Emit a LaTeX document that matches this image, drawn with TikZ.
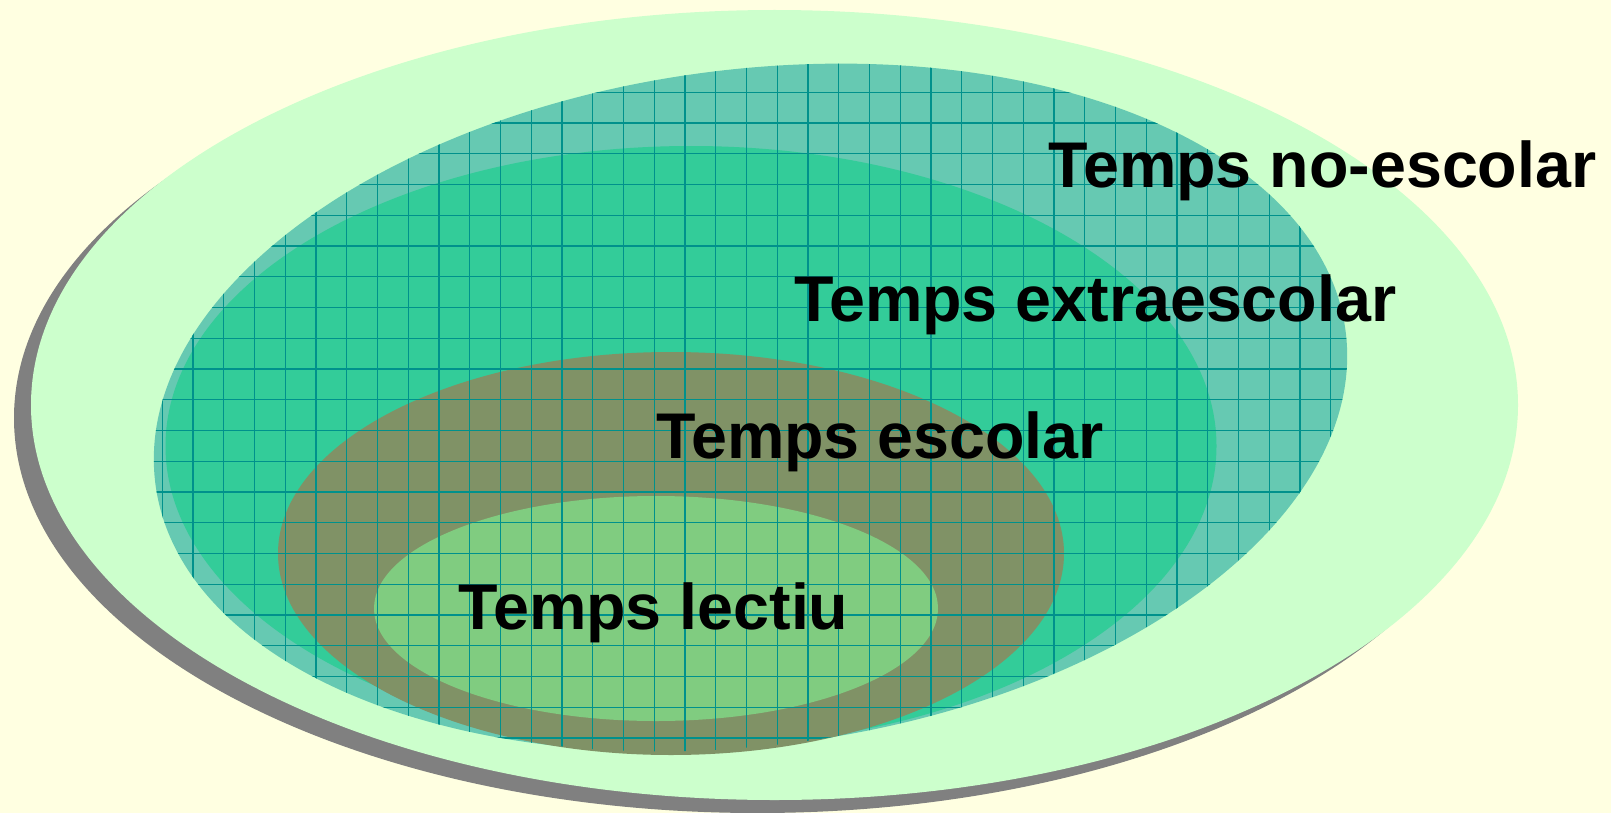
\documentclass[tikz,border=0pt]{standalone}
\usepackage{fontspec}
\setmainfont{Liberation Sans}
\usepackage{xcolor}
\definecolor{paleyellow}{RGB}{255,255,225}
\definecolor{shadowgray}{RGB}{128,128,128}
\definecolor{outergreen}{RGB}{204,255,204}
\definecolor{gridteal}{RGB}{102,201,178}
\definecolor{emeraldfill}{RGB}{51,204,153}
\definecolor{schoolbrown}{RGB}{128,146,102}
\definecolor{innergreen}{RGB}{128,204,128}
\definecolor{gridlinecol}{RGB}{0,145,140}

\begin{document}
\begin{tikzpicture}[x=0.5pt, y=-0.5pt,
    lbl/.style={anchor=base west, inner sep=0pt,
                font=\fontsize{32.3}{36}\selectfont\bfseries},
    gridline/.style={draw=gridlinecol, line width=0.6pt}]
    \useasboundingbox (0,0) rectangle (1611,813);
    \fill[paleyellow] (0,0) rectangle (1611,813);
    \fill[shadowgray] (757.5,418) ellipse [x radius=743.5, y radius=395];
    \fill[outergreen] (774.5,405) ellipse [x radius=743.5, y radius=395];
    \fill[gridteal, shift={(750.5,407.5)}, rotate=7.3] (0,0) ellipse [x radius=600, y radius=338];
    \fill[emeraldfill] (691,446) ellipse [x radius=525.5, y radius=300];
    \fill[schoolbrown] (671,553.5) ellipse [x radius=393, y radius=201.5];
    \fill[innergreen] (656,608.5) ellipse [x radius=282, y radius=112.5];
    \begin{scope}
      \clip[shift={(750.5,407.5)}, rotate=7.3] (0,0) ellipse [x radius=600, y radius=338];
      \foreach \gx in {0,...,39}
        \draw[gridline] ({131.55+30.75*\gx},40) -- ({131.55+30.75*\gx},780);
      \foreach \gy in {0,...,22}
        \draw[gridline] (120,{61.55+30.75*\gy}) -- (1380,{61.55+30.75*\gy});
    \end{scope}
    \node[lbl] (noescolar) at (1048,187) {Temps no-escolar};
    \node[lbl] (extraescolar) at (794,321) {Temps extraescolar};
    \node[lbl] (escolar) at (656,458) {Temps escolar};
    \node[lbl] (lectiu) at (458,629) {Temps lectiu};
\end{tikzpicture}
\end{document}
